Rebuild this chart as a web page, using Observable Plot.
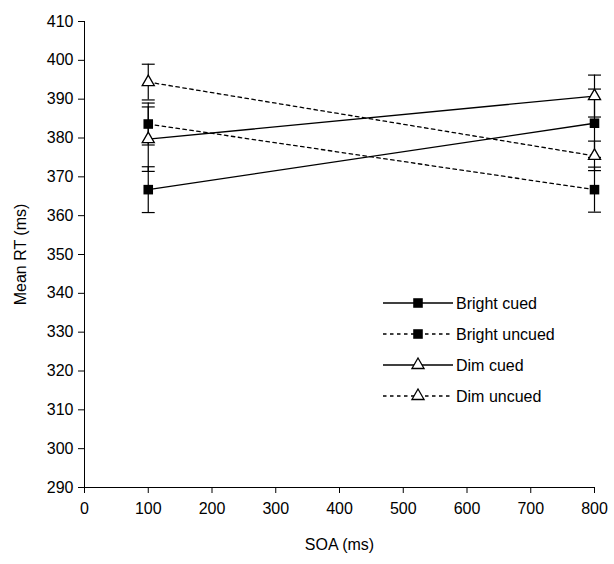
<!DOCTYPE html>
<html><head><meta charset="utf-8">
<script src="https://cdn.jsdelivr.net/npm/d3@7"></script>
<script src="https://cdn.jsdelivr.net/npm/@observablehq/plot@0.6"></script>
<style>
body{margin:0;background:#fff;}
#chart{position:relative;width:614px;height:564px;font-family:"Liberation Sans",Arial,sans-serif;}
#legend{position:absolute;left:0;top:0;}
</style>
</head><body><div id="chart"></div>
<script>
// ---- data ----
const soa = [100, 800];
const conditions = ["Bright cued", "Bright uncued", "Dim cued", "Dim uncued"];
const brightCued = [366.7, 383.8];
const brightUncued = [383.6, 366.7];
const dimCued = [379.7, 390.8];
const dimUncued = [394.4, 375.4];
const brightCuedErr = [5.9, 8.8];
const brightUncuedErr = [5.4, 5.8];
const dimCuedErr = [8.3, 5.4];
const dimUncuedErr = [4.6, 3.8];
const xTicks = [0, 100, 200, 300, 400, 500, 600, 700, 800];
const yTicks = [290, 300, 310, 320, 330, 340, 350, 360, 370, 380, 390, 400, 410];

const seriesValues = [brightCued, brightUncued, dimCued, dimUncued];
const seriesErrors = [brightCuedErr, brightUncuedErr, dimCuedErr, dimUncuedErr];
const rows = [];
conditions.forEach((c, i) => soa.forEach((s, j) => rows.push({
  condition: c, soa: s, rt: seriesValues[i][j], err: seriesErrors[i][j],
  bright: c.startsWith("Bright"), cued: !c.includes("uncued")
})));
const caps = rows.flatMap(d => [{soa: d.soa, y: d.rt - d.err}, {soa: d.soa, y: d.rt + d.err}]);

const capSymbol = {draw(ctx, size) { const w = Math.sqrt(size) / 2; ctx.moveTo(-w, 0); ctx.lineTo(w, 0); }};
const squareR = 5.4, triR = 4.5;

const plot = Plot.plot({
  width: 614, height: 564,
  marginLeft: 84, marginRight: 20, marginTop: 21, marginBottom: 77,
  style: {fontSize: "16px", fontFamily: "'Liberation Sans', Arial, sans-serif", color: "black", background: "white"},
  x: {domain: [0, 800]},
  y: {domain: [290, 410]},
  marks: [
    Plot.axisX({ticks: xTicks, tickSize: 6, tickPadding: 9, label: "SOA (ms)", labelAnchor: "center", labelOffset: 62, labelArrow: false}),
    Plot.axisY({ticks: yTicks, tickSize: 6, tickPadding: 5, label: "Mean RT (ms)", labelAnchor: "center", labelOffset: 70, labelArrow: false}),
    Plot.ruleX([0], {stroke: "black"}),
    Plot.ruleY([290], {stroke: "black"}),
    Plot.ruleX(rows, {x: "soa", y1: d => d.rt - d.err, y2: d => d.rt + d.err, stroke: "black", strokeWidth: 1.2}),
    Plot.dot(caps, {x: "soa", y: "y", symbol: capSymbol, r: 7.3, fill: "none", stroke: "black", strokeWidth: 1.2}),
    Plot.line(rows.filter(d => d.cued), {x: "soa", y: "rt", z: "condition", stroke: "black", strokeWidth: 1.3}),
    Plot.line(rows.filter(d => !d.cued), {x: "soa", y: "rt", z: "condition", stroke: "black", strokeWidth: 1.3, strokeDasharray: "3.5,3.5"}),
    Plot.dot(rows.filter(d => d.bright), {x: "soa", y: "rt", symbol: "square", r: squareR, fill: "black", stroke: "none"}),
    Plot.dot(rows.filter(d => !d.bright), {x: "soa", y: "rt", symbol: "triangle", r: triR, fill: "white", stroke: "black", strokeWidth: 1.3})
  ]
});
const chart = document.getElementById("chart");
chart.appendChild(plot);

// ---- legend (inside plot area) ----
const legendY = [303, 334, 365, 396];
const svg = d3.select(chart).append("svg").attr("id", "legend").attr("width", 614).attr("height", 564);
conditions.forEach((c, i) => {
  const g = svg.append("g").attr("transform", `translate(0,${legendY[i]})`);
  const cued = !c.includes("uncued"), bright = c.startsWith("Bright");
  g.append("line").attr("x1", 383).attr("x2", 453).attr("stroke", "black").attr("stroke-width", 1.3)
    .attr("stroke-dasharray", cued ? null : "3.5,3.5");
  const sym = bright ? d3.symbol(d3.symbolSquare, squareR * squareR * Math.PI) : d3.symbol(d3.symbolTriangle, triR * triR * Math.PI);
  g.append("path").attr("transform", "translate(418,0)").attr("d", sym())
    .attr("fill", bright ? "black" : "white").attr("stroke", bright ? "none" : "black").attr("stroke-width", 1.3);
  g.append("text").attr("x", 456).attr("y", 0).attr("dy", "0.35em").attr("font-size", 16)
    .attr("font-family", "'Liberation Sans', Arial, sans-serif").text(c);
});
</script>
</body></html>
